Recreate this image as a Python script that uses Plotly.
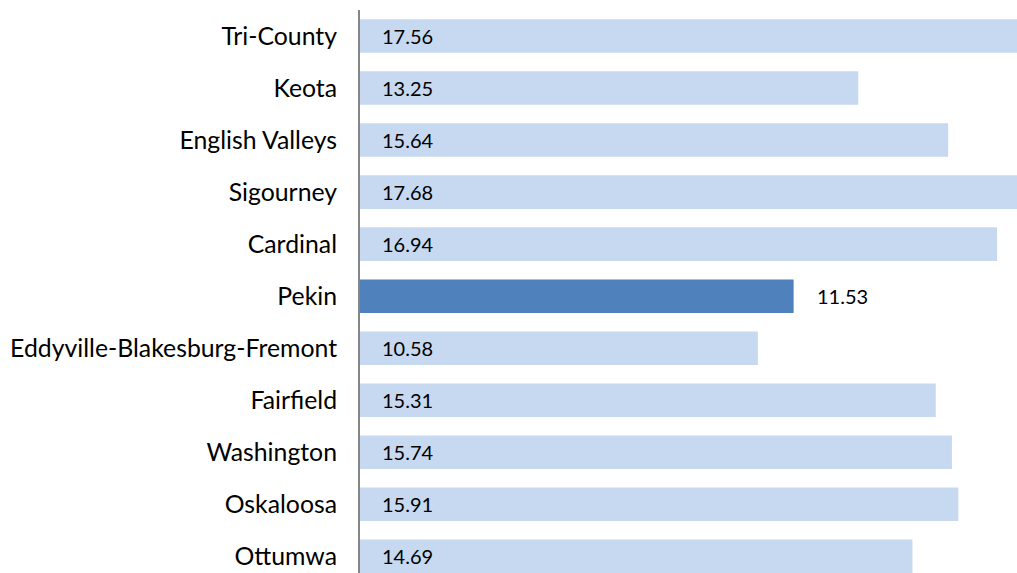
import plotly.graph_objects as go

categories = ["Tri-County", "Keota", "English Valleys", "Sigourney", "Cardinal", "Pekin",
              "Eddyville-Blakesburg-Fremont", "Fairfield", "Washington", "Oskaloosa", "Ottumwa"]
values = [17.56, 13.25, 15.64, 17.68, 16.94, 11.53, 10.58, 15.31, 15.74, 15.91, 14.69]
highlight = "Pekin"

light = "#C6D9F1"
dark = "#4F81BD"
colors = [dark if c == highlight else light for c in categories]

fig = go.Figure()
fig.add_trace(go.Bar(
    x=values, y=categories, orientation="h",
    marker=dict(color=colors, line=dict(width=0)),
    width=0.645,
    hoverinfo="skip",
))

annotations = []
for c, v in zip(categories, values):
    if c == highlight:
        annotations.append(dict(x=v, y=c, xref="x", yref="y", text=f"{v:.2f}",
                                showarrow=False, xanchor="left", xshift=21,
                                font=dict(family="Lato", size=20, color="#000000")))
    else:
        annotations.append(dict(x=0, y=c, xref="x", yref="y", text=f"{v:.2f}",
                                showarrow=False, xanchor="left", xshift=20,
                                font=dict(family="Lato", size=20, color="#000000")))

fig.update_layout(
    width=1017, height=573,
    margin=dict(l=360, r=0, t=10, b=0),
    paper_bgcolor="white", plot_bgcolor="white",
    showlegend=False,
    annotations=annotations,
    xaxis=dict(range=[0, 17.47], visible=False, fixedrange=True),
    yaxis=dict(
        categoryorder="array", categoryarray=categories,
        range=[10.32, -0.5], fixedrange=True,
        showline=True, linecolor="#868686", linewidth=2,
        showgrid=False, zeroline=False, ticks="",
        ticklabelstandoff=16,
        tickfont=dict(family="Lato", size=24.8, color="#000000"),
    ),
)

fig.write_html(
    "out.html",
    config={"displayModeBar": False},
    post_script=(
        "document.body.style.margin='0';"
        "document.body.style.overflow='hidden';"
        "document.documentElement.style.overflow='hidden';"
    ),
)
